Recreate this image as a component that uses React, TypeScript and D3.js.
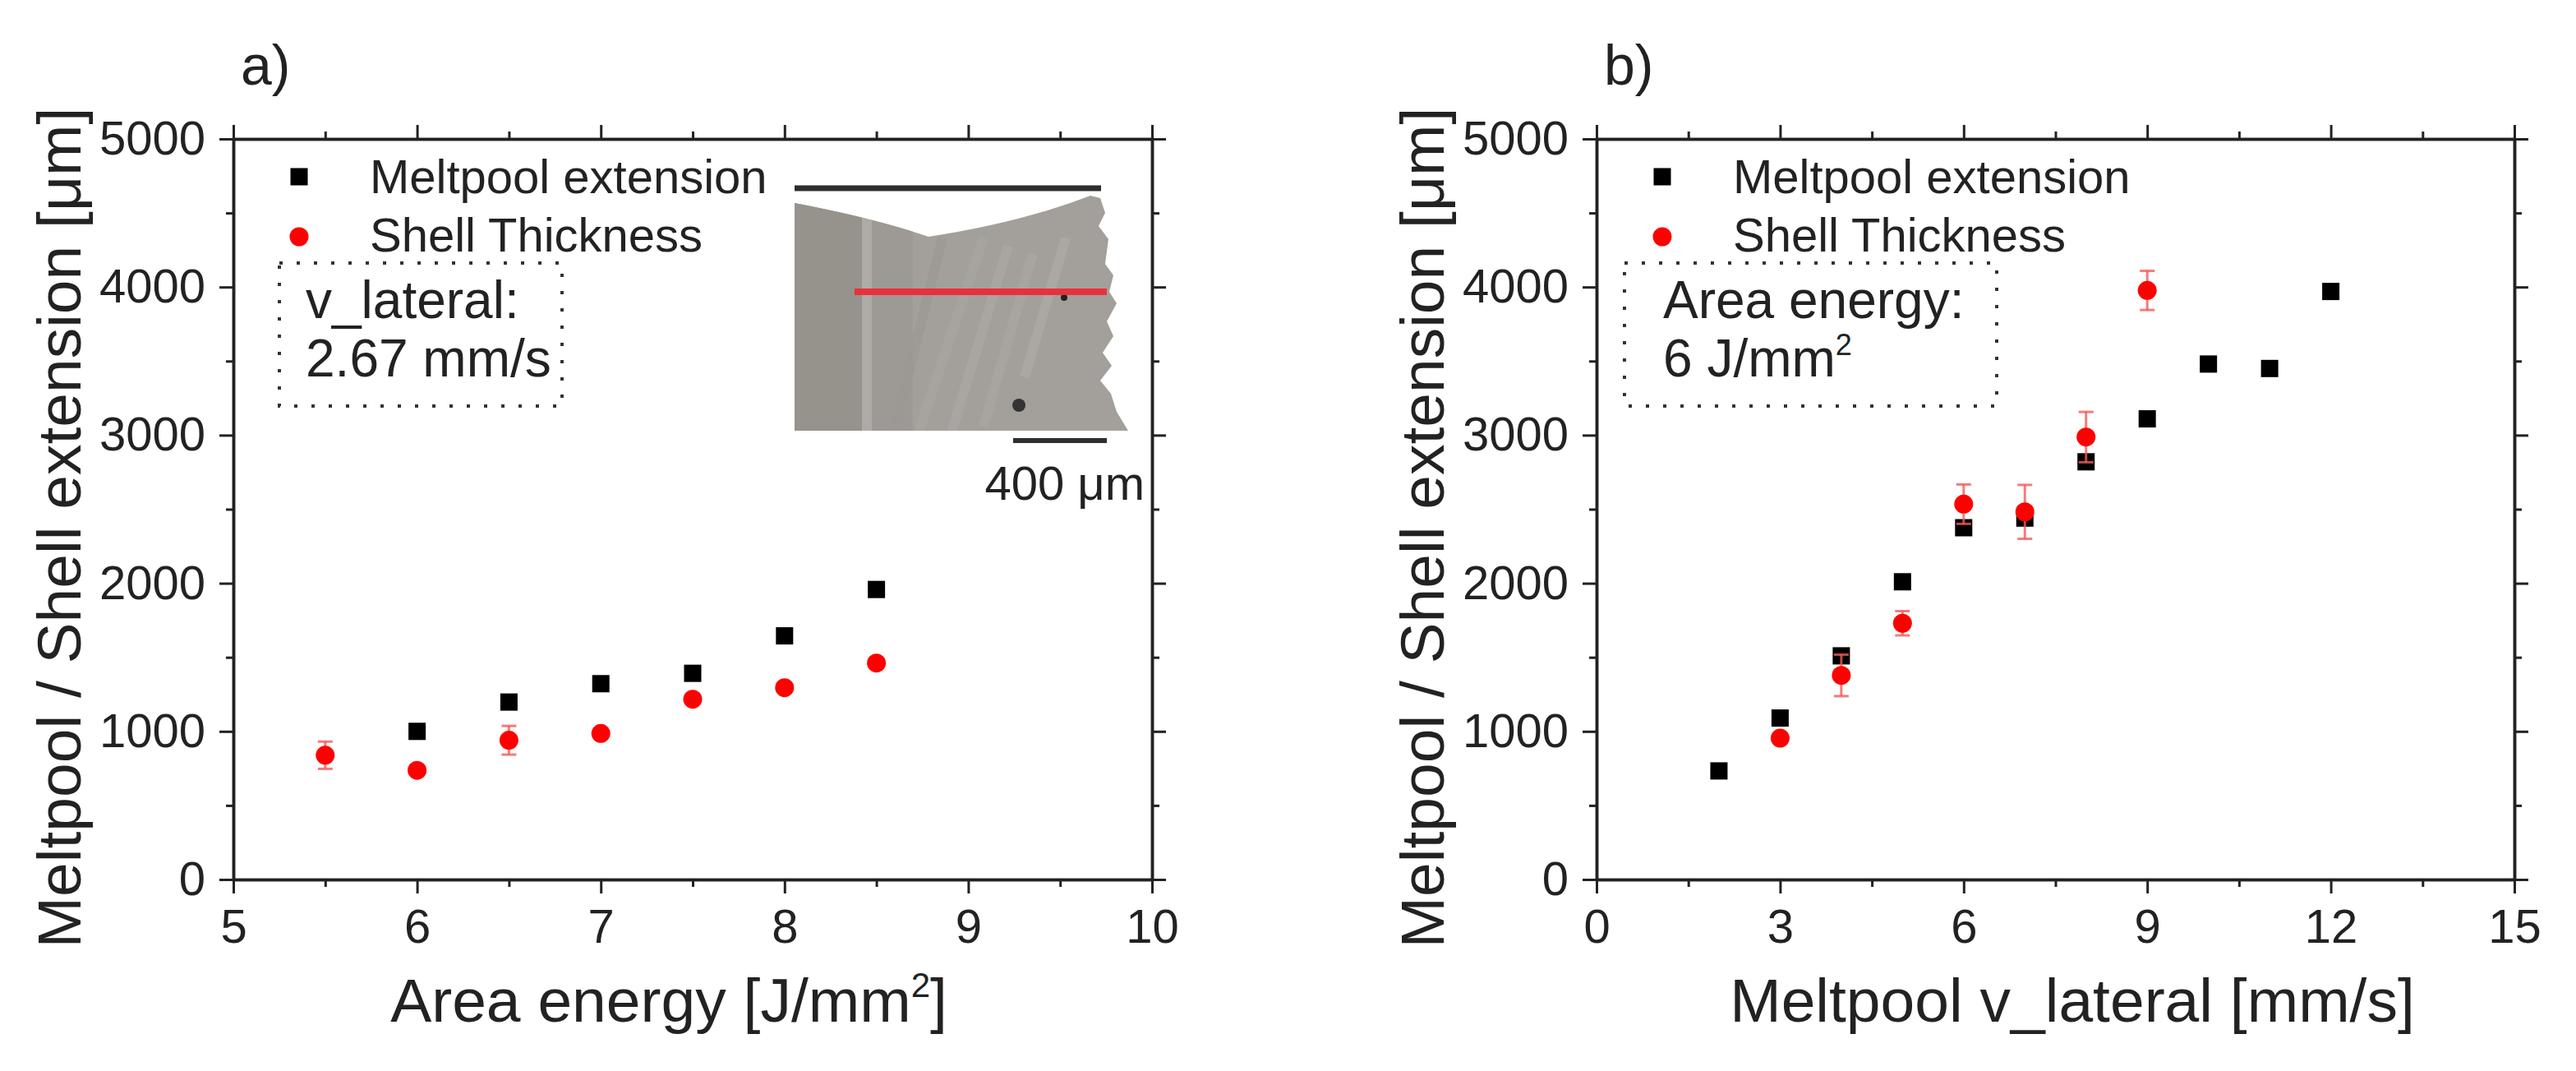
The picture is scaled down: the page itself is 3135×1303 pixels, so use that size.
import React, { useEffect, useRef } from "react";
import * as d3 from "d3";

const width = 3135;
const height = 1303;
const font = "'Liberation Sans', Arial, sans-serif";

// panel a: area energy sweep (v_lateral = 2.67 mm/s)
const energyMelt = [6, 6.5, 7, 7.5, 8, 8.5];
const meltA = [1000, 1198, 1322, 1392, 1645, 1958];
const energyShell = [5.5, 6, 6.5, 7, 7.5, 8, 8.5];
const shellA = [839, 737, 940, 986, 1217, 1295, 1461];
const shellAErr = [92, 25, 97, 25, 25, 25, 25];

// panel b: lateral speed sweep (area energy = 6 J/mm2)
const speedMelt = [2, 3, 4, 5, 6, 7, 8, 9, 10, 11, 12];
const meltB = [733, 1090, 1510, 2010, 2375, 2440, 2820, 3110, 3480, 3450, 3970];
const speedShell = [3, 4, 5, 6, 7, 8, 9];
const shellB = [954, 1378, 1730, 2534, 2482, 2987, 3977];
const shellBErr = [30, 140, 82, 133, 182, 170, 132];

const yTicks = [0, 1000, 2000, 3000, 4000, 5000];
const yMinor = [500, 1500, 2500, 3500, 4500];
const xTicksA = [5, 6, 7, 8, 9, 10];
const xMinorA = [5.5, 6.5, 7.5, 8.5, 9.5];
const xTicksB = [0, 3, 6, 9, 12, 15];
const xMinorB = [1.5, 4.5, 7.5, 10.5, 13.5];
const legendLabels = ["Meltpool extension", "Shell Thickness"];
const yTitle = "Meltpool / Shell extension [μm]";

const drawPanel = (svg, p) => {
  const top = 169;
  const bottom = 1070;
  const x = d3.scaleLinear().domain(p.xDomain).range([p.left, p.right]);
  const y = d3.scaleLinear().domain([0, 5000]).range([bottom, top]);
  const g = svg.append("g");

  const styleAxis = (sel) => {
    sel.select(".domain").attr("stroke", "#222").attr("stroke-width", 3.5);
    sel.selectAll(".tick line").attr("stroke", "#222").attr("stroke-width", 3);
    sel.selectAll("text").attr("font-family", font).attr("font-size", 58).attr("fill", "#222");
  };

  // minor ticks first
  [
    [d3.axisBottom(x).tickValues(p.xMinor), `translate(0,${bottom})`],
    [d3.axisTop(x).tickValues(p.xMinor), `translate(0,${top})`],
    [d3.axisLeft(y).tickValues(yMinor), `translate(${p.left},0)`],
    [d3.axisRight(y).tickValues(yMinor), `translate(${p.right},0)`],
  ].forEach(([ax, tr]) => {
    g.append("g")
      .attr("transform", tr)
      .call(ax.tickSize(9).tickSizeOuter(0).tickFormat(() => ""))
      .call(styleAxis);
  });

  g.append("g")
    .attr("transform", `translate(0,${bottom})`)
    .call(d3.axisBottom(x).tickValues(p.xTicks).tickSize(17).tickSizeOuter(0).tickPadding(19).tickFormat(d3.format("d")))
    .call(styleAxis);
  g.append("g")
    .attr("transform", `translate(0,${top})`)
    .call(d3.axisTop(x).tickValues(p.xTicks).tickSize(17).tickSizeOuter(0).tickFormat(() => ""))
    .call(styleAxis);
  g.append("g")
    .attr("transform", `translate(${p.left},0)`)
    .call(d3.axisLeft(y).tickValues(yTicks).tickSize(17).tickSizeOuter(0).tickPadding(17).tickFormat(d3.format("d")))
    .call(styleAxis);
  g.append("g")
    .attr("transform", `translate(${p.right},0)`)
    .call(d3.axisRight(y).tickValues(yTicks).tickSize(17).tickSizeOuter(0).tickFormat(() => ""))
    .call(styleAxis);

  // axis titles
  g.append("text")
    .attr("transform", `translate(${p.left - 186},642) rotate(-90)`)
    .attr("text-anchor", "middle")
    .attr("font-family", font)
    .attr("font-size", 75)
    .attr("fill", "#222")
    .text(yTitle);

  const xt = g.append("text")
    .attr("x", p.xTitleX)
    .attr("y", 1243)
    .attr("text-anchor", "middle")
    .attr("font-family", font)
    .attr("font-size", 75)
    .attr("fill", "#222");
  xt.append("tspan").text(p.xTitle);
  if (p.xTitleSup) {
    xt.append("tspan").attr("font-size", 42).attr("dy", -30).text("2");
    xt.append("tspan").attr("dy", 30).text("]");
  }

  g.append("text")
    .attr("x", p.left + 9)
    .attr("y", 103)
    .attr("font-family", font)
    .attr("font-size", 68)
    .attr("fill", "#222")
    .text(p.label);

  // inset first so data sits above
  if (p.inset) p.inset(g);

  // squares
  g.selectAll(".sq")
    .data(p.meltX)
    .join("rect")
    .attr("x", (d) => x(d) - 10.5)
    .attr("y", (d, i) => y(p.meltY[i]) - 10.5)
    .attr("width", 21)
    .attr("height", 21)
    .attr("fill", "#000");

  // error bars
  const eb = g.append("g").attr("stroke", "#f25a5a").attr("stroke-opacity", 0.8).attr("stroke-width", 3);
  p.shellX.forEach((d, i) => {
    const cx = x(d);
    const y0 = y(p.shellY[i] - p.shellErr[i]);
    const y1 = y(p.shellY[i] + p.shellErr[i]);
    eb.append("line").attr("x1", cx).attr("x2", cx).attr("y1", y0).attr("y2", y1);
    eb.append("line").attr("x1", cx - 9).attr("x2", cx + 9).attr("y1", y0).attr("y2", y0);
    eb.append("line").attr("x1", cx - 9).attr("x2", cx + 9).attr("y1", y1).attr("y2", y1);
  });

  g.selectAll(".ci")
    .data(p.shellX)
    .join("circle")
    .attr("cx", (d) => x(d))
    .attr("cy", (d, i) => y(p.shellY[i]))
    .attr("r", 11.5)
    .attr("fill", "#ff0000");

  // legend
  const lx = p.left + 80;
  g.append("rect").attr("x", lx - 10.5).attr("y", 215 - 10.5).attr("width", 21).attr("height", 21).attr("fill", "#000");
  g.append("circle").attr("cx", lx).attr("cy", 288).attr("r", 11.5).attr("fill", "#ff0000");
  legendLabels.forEach((t, i) => {
    g.append("text")
      .attr("x", lx + 86)
      .attr("y", i === 0 ? 235 : 306)
      .attr("font-family", font)
      .attr("font-size", 58)
      .attr("fill", "#222")
      .text(t);
  });

  // dotted annotation box
  g.append("rect")
    .attr("x", p.box[0])
    .attr("y", 320)
    .attr("width", p.box[1] - p.box[0])
    .attr("height", 174)
    .attr("fill", "none")
    .attr("stroke", "#333")
    .attr("stroke-width", 4)
    .attr("stroke-dasharray", "4 17");
  p.boxLines.forEach((t, i) => {
    const bt = g.append("text")
      .attr("x", p.boxTextX)
      .attr("y", i === 0 ? 387 : 458)
      .attr("font-family", font)
      .attr("font-size", 64)
      .attr("fill", "#222");
    if (t.endsWith("mm2")) {
      bt.append("tspan").text(t.slice(0, -1));
      bt.append("tspan").attr("font-size", 36).attr("dy", -26).text("2");
    } else {
      bt.text(t);
    }
  });
};

const drawInset = (g) => {
  const ig = g.append("g").attr("transform", "translate(967,229)");
  const shape =
    "M0,18 Q95,36 163,59 Q275,42 360,9 L372,12 L378,30 L370,46 L382,62 L378,92 L388,106 L383,126 L392,140 L380,162 L388,180 L375,200 L386,216 L372,234 L385,250 L392,272 L406,295 L0,295 Z";
  ig.append("clipPath").attr("id", "insetClip").append("path").attr("d", shape);
  ig.append("path").attr("d", shape).attr("fill", "#a3a09b");
  const tex = ig.append("g").attr("clip-path", "url(#insetClip)");
  tex.append("rect").attr("x", 0).attr("y", 0).attr("width", 85).attr("height", 300).attr("fill", "#96928c");
  tex.append("rect").attr("x", 82).attr("y", 0).attr("width", 12).attr("height", 300).attr("fill", "#aeaba6");
  tex.append("rect").attr("x", 94).attr("y", 0).attr("width", 50).attr("height", 300).attr("fill", "#9d9994");
  [
    [150, 300, 230, 60, "#a7a49f"],
    [190, 300, 260, 70, "#aaa7a2"],
    [230, 290, 290, 80, "#a9a6a1"],
    [280, 230, 330, 60, "#adaaa5"],
    [120, 300, 180, 60, "#9c9893"],
  ].forEach(([x1, y1, x2, y2, c]) => {
    tex.append("line").attr("x1", x1).attr("y1", y1).attr("x2", x2).attr("y2", y2).attr("stroke", c).attr("stroke-width", 12).attr("stroke-opacity", 0.8);
  });
  tex.append("circle").attr("cx", 273).attr("cy", 264).attr("r", 8).attr("fill", "#333");
  tex.append("circle").attr("cx", 328).attr("cy", 133).attr("r", 4).attr("fill", "#222");
  ig.append("line").attr("x1", 0).attr("x2", 373).attr("y1", 0).attr("y2", 0).attr("stroke", "#2e2e2e").attr("stroke-width", 7);
  ig.append("line").attr("x1", 73).attr("x2", 380).attr("y1", 126).attr("y2", 126).attr("stroke", "#e8313b").attr("stroke-width", 8);
  ig.append("line").attr("x1", 266).attr("x2", 380).attr("y1", 307).attr("y2", 307).attr("stroke", "#2e2e2e").attr("stroke-width", 6);
  ig.append("text")
    .attr("x", 426)
    .attr("y", 379)
    .attr("text-anchor", "end")
    .attr("font-family", font)
    .attr("font-size", 58)
    .attr("fill", "#222")
    .text("400 μm");
};

const App = () => {
  const svgRef = useRef(null);

  useEffect(() => {
    const svg = d3.select(svgRef.current);
    svg.selectAll("*").remove();
    svg.append("rect").attr("width", width).attr("height", height).attr("fill", "#fff");

    drawPanel(svg, {
      left: 284,
      right: 1402,
      xDomain: [5, 10],
      xTicks: xTicksA,
      xMinor: xMinorA,
      meltX: energyMelt,
      meltY: meltA,
      shellX: energyShell,
      shellY: shellA,
      shellErr: shellAErr,
      xTitle: "Area energy [J/mm",
      xTitleSup: true,
      xTitleX: 814,
      label: "a)",
      box: [340, 684],
      boxTextX: 372,
      boxLines: ["v_lateral:", "2.67 mm/s"],
      inset: drawInset,
    });

    drawPanel(svg, {
      left: 1943,
      right: 3060,
      xDomain: [0, 15],
      xTicks: xTicksB,
      xMinor: xMinorB,
      meltX: speedMelt,
      meltY: meltB,
      shellX: speedShell,
      shellY: shellB,
      shellErr: shellBErr,
      xTitle: "Meltpool v_lateral [mm/s]",
      xTitleSup: false,
      xTitleX: 2522,
      label: "b)",
      box: [1977, 2430],
      boxTextX: 2024,
      boxLines: ["Area energy:", "6 J/mm2"],
    });
  }, []);

  return (
    <svg
      ref={svgRef}
      width={width}
      height={height}
      viewBox={`0 0 ${width} ${height}`}
      style={{ display: "block", position: "absolute", left: 0, top: 0 }}
    ></svg>
  );
};

export default App;
